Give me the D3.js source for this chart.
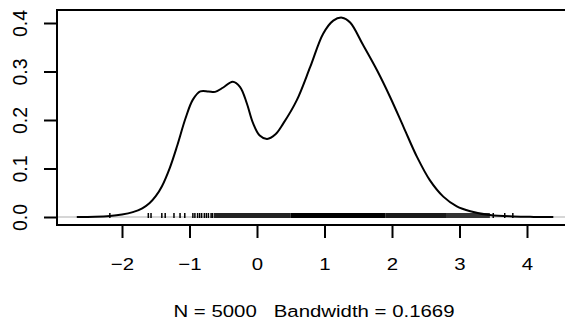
<!DOCTYPE html>
<html>
<head>
<meta charset="utf-8">
<script src="https://cdn.jsdelivr.net/npm/d3@7"></script>
<style>
  body { margin: 0; background: #fff; }
  text { font-family: "Liberation Sans", Arial, sans-serif; }
</style>
</head>
<body>
<div id="chart"></div>
<script>
// density estimate
var densX = [-2.67, -2.4, -2.18, -2.0, -1.84, -1.7, -1.59, -1.5, -1.41, -1.29,
             -1.18, -1.06, -0.95, -0.84, -0.72, -0.62, -0.5, -0.36, -0.25, -0.15,
             -0.06, 0.04, 0.15, 0.27, 0.39, 0.59, 0.79, 0.98, 1.13, 1.26,
             1.38, 1.57, 1.78, 1.97, 2.17, 2.37, 2.56, 2.76, 2.96, 3.16,
             3.45, 3.8, 4.1, 4.39];
var densY = [0.0, 0.0005, 0.002, 0.005, 0.010, 0.018, 0.029, 0.043, 0.063, 0.102,
             0.148, 0.203, 0.242, 0.259, 0.259, 0.258, 0.267, 0.279, 0.268, 0.234,
             0.194, 0.168, 0.161, 0.170, 0.193, 0.241, 0.31, 0.378, 0.405, 0.411,
             0.401, 0.355, 0.302, 0.248, 0.186, 0.124, 0.076, 0.042, 0.022, 0.012,
             0.004, 0.001, 0.0002, 0.0];
// single rug ticks in the tails
var rugTicks = [-2.18, -1.61, -1.57, -1.41, -1.36, -1.23, -1.14, -1.07,
                -0.95, -0.92, -0.88, -0.85, -0.82, -0.78, -0.75, -0.72, -0.68, -0.66,
                3.5, 3.67, 3.79];
// dense rug stretches: start, end, shade
var rugStart = [-0.64, 0.5, 1.9, 2.8];
var rugEnd   = [0.5, 1.9, 2.8, 3.45];
var rugShade = ["#222", "#000", "#1a1a1a", "#333"];

var xTicks = [-2, -1, 0, 1, 2, 3, 4];
var yTicks = [0, 0.1, 0.2, 0.3, 0.4];
var subtitle = "N = 5000   Bandwidth = 0.1669";

var w = 565, h = 323;
var svg = d3.select("#chart").append("svg")
    .attr("width", w)
    .attr("height", h);

var x = d3.scaleLinear().domain([-2, 4]).range([122, 527]);
var y = d3.scaleLinear().domain([0, 0.4]).range([217, 23]);
var boxLeft = 57, boxTop = 10, boxBottom = 225;
var stretch = 1.2; // text in the picture is a little wider than it is tall

// zero line
svg.append("line")
    .attr("x1", boxLeft).attr("x2", w)
    .attr("y1", y(0)).attr("y2", y(0))
    .attr("stroke", "#c8c8c8")
    .attr("stroke-width", 1.5);

// rug
svg.selectAll("rect.rug")
    .data(rugStart)
    .enter()
    .append("rect")
    .attr("class", "rug")
    .attr("x", function(d) { return x(d); })
    .attr("width", function(d, i) { return x(rugEnd[i]) - x(d); })
    .attr("y", y(0) - 4)
    .attr("height", 5)
    .attr("fill", function(d, i) { return rugShade[i]; });

svg.selectAll("line.rug")
    .data(rugTicks)
    .enter()
    .append("line")
    .attr("class", "rug")
    .attr("x1", function(d) { return x(d); })
    .attr("x2", function(d) { return x(d); })
    .attr("y1", y(0) - 4)
    .attr("y2", y(0) + 1)
    .attr("stroke", "#000")
    .attr("stroke-width", 1.5);

// density curve
var pts = densX.map(function(d, i) { return [d, densY[i]]; });
svg.append("path")
    .datum(pts)
    .attr("fill", "none")
    .attr("stroke", "#000")
    .attr("stroke-width", 2)
    .attr("d", d3.line()
        .x(function(d) { return x(d[0]); })
        .y(function(d) { return y(d[1]); })
        .curve(d3.curveCatmullRom.alpha(0.5)));

// box (right side runs off the picture)
svg.append("path")
    .attr("d", "M" + (w + 5) + "," + boxTop + "H" + boxLeft + "V" + boxBottom + "H" + (w + 5))
    .attr("fill", "none")
    .attr("stroke", "#000")
    .attr("stroke-width", 2);

// x axis
var xAxis = d3.axisBottom(x)
    .tickValues(xTicks)
    .tickSize(13)
    .tickFormat(function(d) { return d < 0 ? "\u2212" + Math.abs(d) : d; });
var gx = svg.append("g")
    .attr("transform", "translate(0," + boxBottom + ")")
    .call(xAxis);
gx.select(".domain").remove();
gx.selectAll("line").attr("stroke", "#000").attr("stroke-width", 2);
gx.selectAll("text")
    .attr("y", null)
    .attr("dy", null)
    .attr("transform", "translate(0,45) scale(" + stretch + ",1)")
    .attr("font-size", "17px")
    .attr("font-family", "Liberation Sans, Arial, sans-serif")
    .attr("fill", "#000");

// y axis
var yAxis = d3.axisLeft(y)
    .tickValues(yTicks)
    .tickSize(13)
    .tickFormat(d3.format(".1f"));
var gy = svg.append("g")
    .attr("transform", "translate(" + boxLeft + ",0)")
    .call(yAxis);
gy.select(".domain").remove();
gy.selectAll("line").attr("stroke", "#000").attr("stroke-width", 2);
gy.selectAll("text")
    .attr("x", null)
    .attr("dy", null)
    .attr("text-anchor", "middle")
    .attr("transform", "translate(-30,0) rotate(-90) scale(1.15,1.15)")
    .attr("font-size", "17px")
    .attr("font-family", "Liberation Sans, Arial, sans-serif")
    .attr("fill", "#000");

// subtitle
svg.append("text")
    .attr("transform", "translate(314,317) scale(" + stretch + ",1)")
    .attr("text-anchor", "middle")
    .attr("font-size", "17px")
    .style("white-space", "pre")
    .text(subtitle);
</script>
</body>
</html>
